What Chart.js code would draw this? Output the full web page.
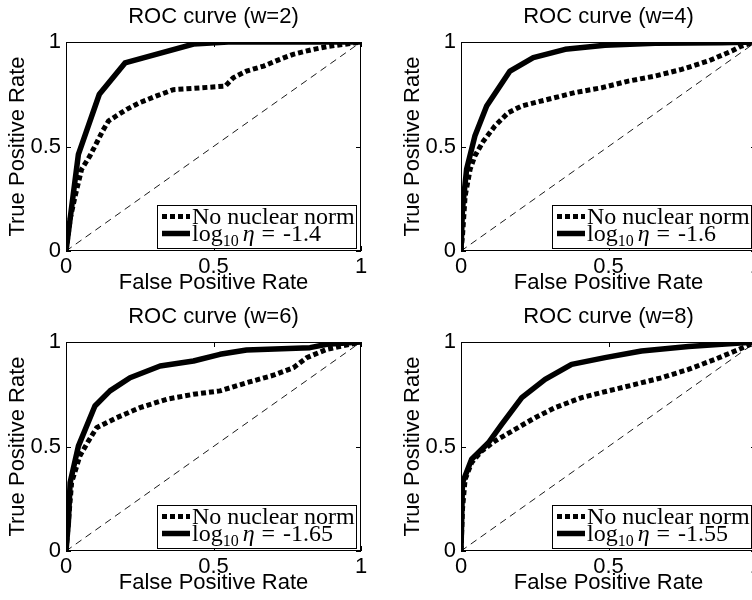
<!DOCTYPE html>
<html>
<head>
<meta charset="utf-8">
<title>ROC curves</title>
<script src="https://cdn.jsdelivr.net/npm/chart.js@4.4.1/dist/chart.umd.min.js"></script>
<style>
  html, body { margin: 0; padding: 0; background: #fff; overflow: hidden; }
  body { width: 752px; height: 600px; position: relative; }
  canvas { position: absolute; }
</style>
</head>
<body>
<canvas id="roc2" width="376" height="300" style="left:0;top:0"></canvas>
<canvas id="roc4" width="376" height="300" style="left:395px;top:0"></canvas>
<canvas id="roc6" width="376" height="300" style="left:0;top:300px"></canvas>
<canvas id="roc8" width="376" height="300" style="left:395px;top:300px"></canvas>
<script>
// Window sizes and the regularisation weight used for each panel
const windowSizes = [2, 4, 6, 8];
const etaValues = ['-1.4', '-1.6', '-1.65', '-1.55'];
const axisTicks = [0, 0.5, 1];

// chance line
const diagFpr = [0, 1];
const diagTpr = [0, 1];

// w = 2
const baseFpr2 = [0, 0.015, 0.031, 0.053, 0.081, 0.104, 0.124, 0.144, 0.17, 0.206, 0.25, 0.307, 0.364, 0.43, 0.54, 0.567, 0.612, 0.67, 0.725, 0.77, 0.83, 0.885, 1];
const baseTpr2 = [0, 0.16, 0.263, 0.391, 0.455, 0.518, 0.574, 0.622, 0.646, 0.678, 0.71, 0.742, 0.772, 0.778, 0.789, 0.829, 0.861, 0.885, 0.917, 0.941, 0.962, 0.978, 1];
const nucFpr2 = [0, 0.042, 0.113, 0.2, 0.432, 0.55, 1];
const nucTpr2 = [0, 0.462, 0.75, 0.9, 0.99, 1, 1];

// w = 4
const baseFpr4 = [0, 0.005, 0.014, 0.031, 0.047, 0.076, 0.115, 0.16, 0.206, 0.296, 0.386, 0.477, 0.567, 0.658, 0.748, 0.838, 0.918, 0.951, 1];
const baseTpr4 = [0, 0.072, 0.263, 0.391, 0.455, 0.526, 0.598, 0.662, 0.694, 0.726, 0.758, 0.781, 0.813, 0.837, 0.869, 0.909, 0.957, 0.981, 1];
const nucFpr4 = [0, 0.005, 0.019, 0.047, 0.087, 0.166, 0.245, 0.353, 0.488, 0.658, 0.884, 1];
const nucTpr4 = [0, 0.2, 0.391, 0.55, 0.694, 0.861, 0.925, 0.965, 0.984, 0.994, 0.997, 1];

// w = 6
const baseFpr6 = [0, 0.008, 0.019, 0.047, 0.076, 0.104, 0.172, 0.251, 0.341, 0.432, 0.522, 0.612, 0.703, 0.771, 0.816, 0.884, 1];
const baseTpr6 = [0, 0.136, 0.327, 0.455, 0.526, 0.59, 0.638, 0.686, 0.726, 0.75, 0.766, 0.805, 0.841, 0.877, 0.925, 0.965, 1];
const nucFpr6 = [0, 0.008, 0.014, 0.042, 0.098, 0.149, 0.217, 0.319, 0.432, 0.522, 0.612, 0.827, 0.884, 1];
const nucTpr6 = [0, 0.136, 0.327, 0.502, 0.694, 0.766, 0.829, 0.885, 0.909, 0.941, 0.962, 0.973, 0.989, 1];

// w = 8
const baseFpr8 = [0, 0.005, 0.014, 0.036, 0.07, 0.115, 0.183, 0.251, 0.319, 0.409, 0.499, 0.59, 0.68, 0.771, 0.861, 0.929, 1];
const baseTpr8 = [0, 0.2, 0.343, 0.423, 0.478, 0.526, 0.582, 0.638, 0.686, 0.734, 0.766, 0.797, 0.829, 0.869, 0.917, 0.957, 1];
const nucFpr8 = [0, 0.005, 0.036, 0.093, 0.138, 0.206, 0.285, 0.375, 0.488, 0.612, 0.771, 0.884, 1];
const nucTpr8 = [0, 0.327, 0.439, 0.518, 0.606, 0.734, 0.821, 0.893, 0.925, 0.957, 0.978, 0.989, 1];

const baseCurves = [[baseFpr2, baseTpr2], [baseFpr4, baseTpr4], [baseFpr6, baseTpr6], [baseFpr8, baseTpr8]];
const nucCurves = [[nucFpr2, nucTpr2], [nucFpr4, nucTpr4], [nucFpr6, nucTpr6], [nucFpr8, nucTpr8]];

const sansFont = { family: '"Liberation Sans", Arial, sans-serif', size: 22, weight: 'normal' };
const serif = '"Liberation Serif", "Times New Roman", serif';

function toPoints(xs, ys) {
    return xs.map((x, i) => ({ x: x, y: ys[i] }));
}

// box around the axes with small inward ticks on all four sides
const framePlugin = {
    id: 'frame',
    afterDatasetsDraw(chart) {
        const { ctx, chartArea: a, scales } = chart;
        ctx.save();
        ctx.strokeStyle = '#000';
        ctx.lineWidth = 1;
        ctx.setLineDash([]);
        ctx.strokeRect(a.left + 0.5, a.top + 0.5, a.width - 1, a.height - 1);
        ctx.beginPath();
        scales.x.ticks.forEach(t => {
            const px = Math.round(scales.x.getPixelForValue(t.value)) + 0.5;
            ctx.moveTo(px, a.bottom); ctx.lineTo(px, a.bottom - 5);
            ctx.moveTo(px, a.top); ctx.lineTo(px, a.top + 5);
        });
        scales.y.ticks.forEach(t => {
            const py = Math.round(scales.y.getPixelForValue(t.value)) + 0.5;
            ctx.moveTo(a.left, py); ctx.lineTo(a.left + 5, py);
            ctx.moveTo(a.right, py); ctx.lineTo(a.right - 5, py);
        });
        ctx.stroke();
        ctx.restore();
    }
};

// legend box in the lower right corner of the plot
const rocLegend = {
    id: 'rocLegend',
    afterDraw(chart, args, opts) {
        const { ctx, chartArea: a } = chart;
        const w = 199, h = 43;
        const left = a.right - 5 - w, top = a.bottom - 3 - h;
        const [base, nuc] = chart.data.datasets;
        const rows = [top + 11.5, top + 28.5];

        ctx.save();
        ctx.fillStyle = '#fff';
        ctx.fillRect(left, top, w, h);
        ctx.strokeStyle = '#000';
        ctx.lineWidth = 1;
        ctx.strokeRect(left + 0.5, top + 0.5, w, h);

        [base, nuc].forEach((ds, i) => {
            ctx.beginPath();
            ctx.setLineDash(ds.borderDash || []);
            ctx.lineWidth = ds.borderWidth;
            ctx.moveTo(left + 5, rows[i]);
            ctx.lineTo(left + 33, rows[i]);
            ctx.stroke();
        });
        ctx.setLineDash([]);

        ctx.fillStyle = '#000';
        ctx.textBaseline = 'alphabetic';
        ctx.font = '24px ' + serif;
        ctx.fillText(base.label, left + 35, rows[0] + 7);

        // log_10 eta = value, set piece by piece
        const y = rows[1] + 7;
        const pieces = [
            { text: 'log', font: '24px ' + serif, dy: 0, gap: 0 },
            { text: '10', font: '16px ' + serif, dy: 5, gap: 4 },
            { text: 'η', font: 'italic 24px ' + serif, dy: 0, gap: 7 },
            { text: '=', font: '24px ' + serif, dy: 0, gap: 8 },
            { text: opts.eta, font: '24px ' + serif, dy: 0, gap: 0 }
        ];
        let x = left + 35;
        pieces.forEach(p => {
            ctx.font = p.font;
            ctx.fillText(p.text, x, y + p.dy);
            x += ctx.measureText(p.text).width + p.gap;
        });
        ctx.restore();
    }
};

function makeChart(canvasId, w, eta, base, nuc) {
    const setTicks = scale => { scale.ticks = axisTicks.map(v => ({ value: v })); };
    const tickLabel = v => String(v);
    return new Chart(document.getElementById(canvasId), {
        type: 'line',
        data: {
            datasets: [
                {
                    label: 'No nuclear norm',
                    data: toPoints(base[0], base[1]),
                    borderColor: '#000',
                    borderWidth: 5,
                    borderDash: [5, 3],
                    borderCapStyle: 'butt',
                    order: 2
                },
                {
                    label: 'log10 η = ' + eta,
                    data: toPoints(nuc[0], nuc[1]),
                    borderColor: '#000',
                    borderWidth: 5.5,
                    borderJoinStyle: 'round',
                    order: 1
                },
                {
                    label: 'chance',
                    data: toPoints(diagFpr, diagTpr),
                    borderColor: '#000',
                    borderWidth: 0.9,
                    borderDash: [7, 5],
                    order: 3
                }
            ]
        },
        options: {
            responsive: false,
            animation: false,
            devicePixelRatio: 1,
            layout: { padding: { right: 15 } },
            elements: {
                point: { radius: 0 },
                line: { tension: 0, fill: false }
            },
            datasets: { line: { clip: 0 } },
            plugins: {
                legend: { display: false },
                tooltip: { enabled: false },
                rocLegend: { eta: eta }
            },
            scales: {
                x: {
                    type: 'linear',
                    min: 0,
                    max: 1,
                    afterBuildTicks: setTicks,
                    afterFit: scale => { scale.height = 49; },
                    grid: { display: false, drawTicks: false },
                    border: { display: false },
                    ticks: { color: '#000', font: sansFont, padding: 3, maxRotation: 0, autoSkip: false, callback: tickLabel },
                    title: {
                        display: true,
                        text: 'False Positive Rate',
                        color: '#000',
                        font: sansFont,
                        padding: { top: 0, bottom: 4 }
                    }
                },
                // top scale only carries the panel title, centred over the plot
                xTop: {
                    type: 'linear',
                    position: 'top',
                    min: 0,
                    max: 1,
                    afterFit: scale => { scale.height = 42; },
                    grid: { display: false, drawTicks: false },
                    border: { display: false },
                    ticks: { display: false },
                    title: {
                        display: true,
                        text: 'ROC curve (w=' + w + ')',
                        color: '#000',
                        font: sansFont,
                        padding: { top: 4, bottom: 0 }
                    }
                },
                y: {
                    type: 'linear',
                    min: 0,
                    max: 1,
                    afterBuildTicks: setTicks,
                    afterFit: scale => { scale.width = 66; },
                    grid: { display: false, drawTicks: false },
                    border: { display: false },
                    ticks: { color: '#000', font: sansFont, padding: 5, autoSkip: false, callback: tickLabel },
                    title: {
                        display: true,
                        text: 'True Positive Rate',
                        color: '#000',
                        font: sansFont,
                        padding: { top: 5, bottom: 0 }
                    }
                }
            }
        },
        plugins: [framePlugin, rocLegend]
    });
}

windowSizes.forEach((w, i) => {
    makeChart('roc' + w, w, etaValues[i], baseCurves[i], nucCurves[i]);
});
</script>
</body>
</html>
